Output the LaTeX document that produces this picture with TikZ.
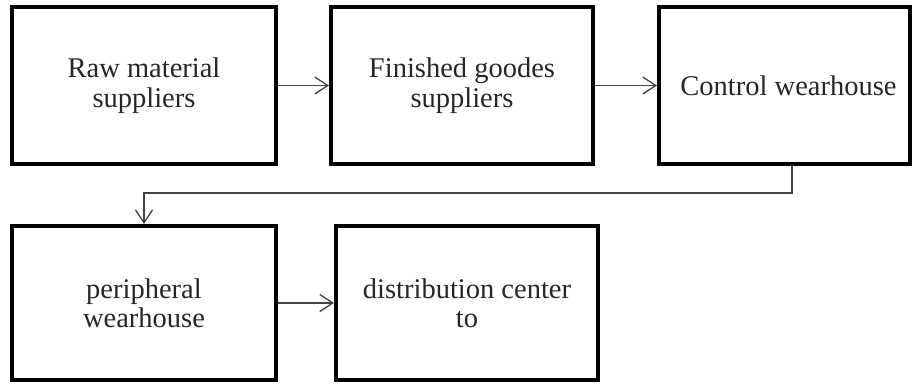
\documentclass[tikz,border=0pt]{standalone}
\usepackage{fontspec}
\setmainfont{LiberationSerif}[Extension=.ttf, UprightFont=*-Regular]
\usetikzlibrary{arrows.meta}
\begin{document}
\begin{tikzpicture}[x=1pt,y=-1pt,
  box/.style={draw=black, line width=4pt, rectangle, align=center,
    inner sep=0pt, font=\rmfamily\fontsize{28.5}{29.5}\selectfont, text=black!85},
  arr/.style={draw=black!75, line width=1.3pt,
    -{Straight Barb[length=13pt,width=17pt,line width=1.3pt]}}]
\useasboundingbox (0,0) rectangle (912,383);
\node[box, minimum width=264pt, minimum height=157pt] (b1) at (144,85.5) {Raw material\\suppliers};
\node[box, minimum width=262pt, minimum height=157pt] (b2) at (462,85.5) {Finished goodes\\suppliers};
\node[box, minimum width=251pt, minimum height=157pt] (b3) at (784.5,85.5) {\hspace*{8pt}Control wearhouse};
\node[box, minimum width=264pt, minimum height=154pt] (b4) at (144,303) {peripheral\\wearhouse};
\node[box, minimum width=262pt, minimum height=154pt] (b5) at (467,303) {distribution center\\to};
\coordinate (c1) at (792,193);
\draw[arr] (b1.east) -- (b2.west);
\draw[arr] (b2.east) -- (b3.west);
\draw[arr] (b3.south -| c1) -- (c1) -| (b4.north);
\draw[arr] (b4.east) -- (b5.west);
\end{tikzpicture}
\end{document}
